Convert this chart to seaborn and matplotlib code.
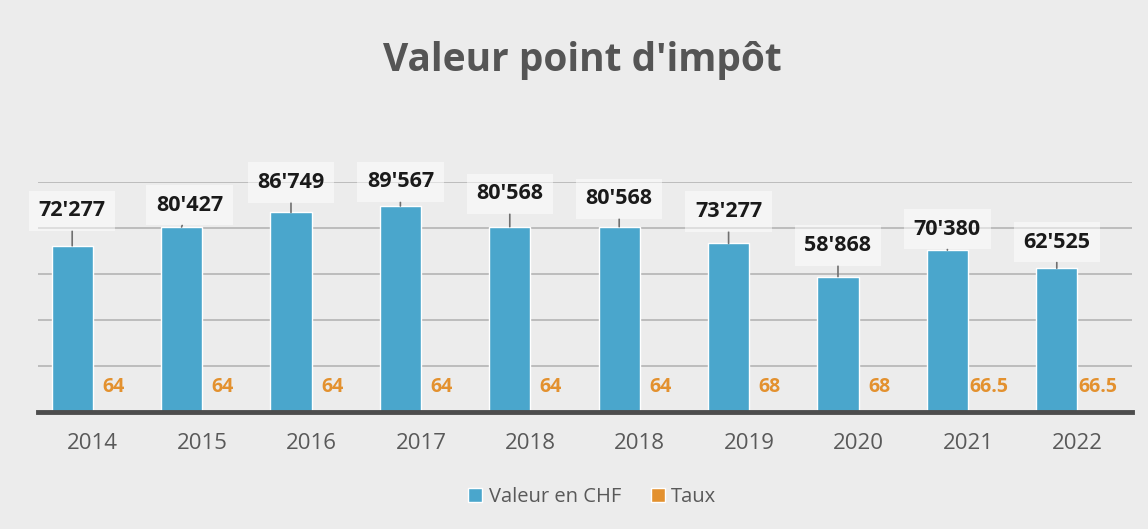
import matplotlib
matplotlib.use('Agg')
import matplotlib.pyplot as plt
import seaborn as sns
import pandas as pd

# --- data ---
years = ["2014", "2015", "2016", "2017", "2018", "2018", "2019", "2020", "2021", "2022"]
valeur = [72277, 80427, 86749, 89567, 80568, 80568, 73277, 58868, 70380, 62525]
taux = [64, 64, 64, 64, 64, 64, 68, 68, 66.5, 66.5]
series = ["Valeur en CHF", "Taux"]

# label offsets above the bar top (pixels), layout only
label_dy = [35, 22, 30, 24, 33, 28, 32, 31, 21, 26]
label_dx = [0, 8, 0, 0, 0, 0, 0, 0, 0, 0]

blue = '#4aa6cc'
orange = '#e3912f'

df = pd.DataFrame({
    'pos': list(range(len(years))) * 2,
    'serie': [series[0]] * len(years) + [series[1]] * len(years),
    'value': valeur + taux,
})

sns.set_style('white')
plt.rcParams['font.family'] = ['Open Sans', 'DejaVu Sans']

fig = plt.figure(figsize=(11.48, 5.29), dpi=100, facecolor='#ececec')
ax = fig.add_axes([38 / 1148, 1 - 412 / 529, 1094 / 1148, 230 / 529])
ax.set_facecolor('none')

sns.barplot(data=df, x='pos', y='value', hue='serie', palette=[blue, orange],
            width=0.75, gap=0, saturation=1, errorbar=None, ax=ax)

ax.set_ylim(0, 100000)
ax.set_yticks(range(20000, 100001, 20000))
ax.set_yticklabels([])
ax.tick_params(axis='y', length=0)
ax.grid(axis='y', color='#b8b8b8', lw=1.3)
ax.set_axisbelow(True)
ax.set_xticks(range(len(years)))
ax.set_xticklabels(years, fontsize=16, color='#595959')
ax.tick_params(axis='x', length=0, pad=15)
ax.set_xlabel('')
ax.set_ylabel('')
for s in ['left', 'right', 'top']:
    ax.spines[s].set_visible(False)
ax.spines['bottom'].set_color('#4d4d4d')
ax.spines['bottom'].set_linewidth(3.5)

# value labels (callouts) for Valeur
for i, p in enumerate(ax.containers[0]):
    x = p.get_x() + p.get_width() / 2
    top = p.get_height()
    txt = f"{valeur[i]:,}".replace(",", "'")
    ax.annotate(txt, xy=(x, top), xytext=(label_dx[i], label_dy[i]),
                textcoords='offset pixels', ha='center', va='center',
                fontsize=15.5, fontweight='bold', color='#1a1a1a',
                bbox=dict(boxstyle='square,pad=0.45', fc='white', ec='none', alpha=0.5),
                arrowprops=dict(arrowstyle='-', color='#707070', lw=1.2,
                                shrinkA=0, shrinkB=0))

# labels for Taux
for i, p in enumerate(ax.containers[1]):
    x = p.get_x() + p.get_width() / 2
    ax.annotate(f"{taux[i]:g}", xy=(x, 0), xytext=(0, 25),
                textcoords='offset pixels', ha='center', va='center',
                fontsize=14, fontweight='bold', color=orange)

ax.get_legend().remove()
handles, labels = ax.get_legend_handles_labels()
fig.legend(handles, labels, loc='center', bbox_to_anchor=(0.516, 1 - 497 / 529),
           ncol=2, frameon=False, fontsize=14.5, handlelength=0.7, handleheight=0.7,
           handletextpad=0.3, columnspacing=1.5, labelcolor='#595959')

fig.text(582 / 1148, 1 - 71 / 529, "Valeur point d'impôt", ha='center', va='baseline',
         fontsize=28, fontweight='bold', color='#555555')

fig.savefig('out.png', dpi=100, facecolor=fig.get_facecolor())
